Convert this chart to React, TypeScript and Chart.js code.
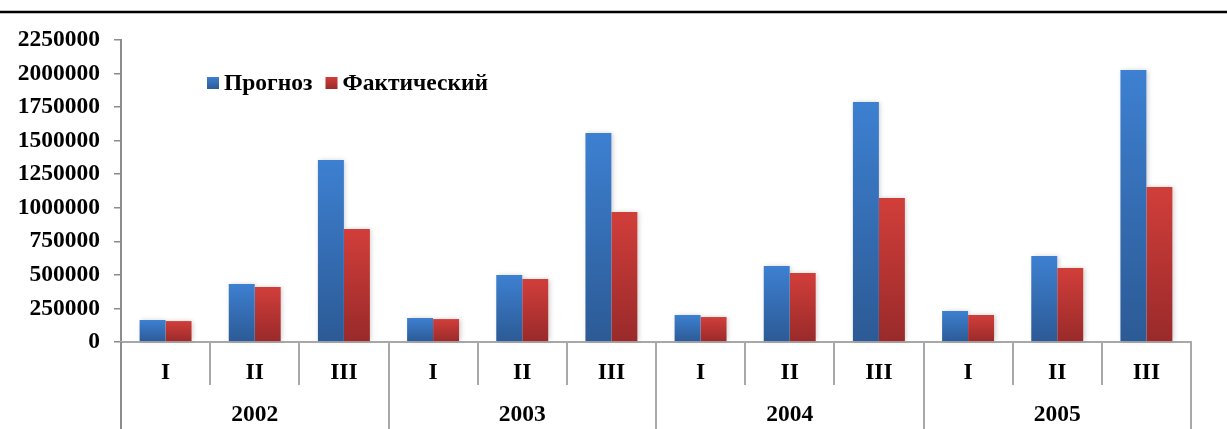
import React, { useEffect, useRef } from 'react';
import { Chart, registerables } from 'chart.js';

Chart.register(...registerables);

const quarters = ['I', 'II', 'III', 'I', 'II', 'III', 'I', 'II', 'III', 'I', 'II', 'III'];
const years = ['2002', '2003', '2004', '2005'];
const forecastLabel = 'Прогноз';
const actualLabel = 'Фактический';
const forecast = [164000, 432000, 1356000, 179000, 499000, 1557000, 201000, 566000, 1788000, 231000, 641000, 2027000];
const actual = [156000, 410000, 842000, 171000, 469000, 969000, 186000, 514000, 1073000, 201000, 551000, 1155000];
const yMax = 2250000;
const yStep = 250000;

const FONT = "'Liberation Serif', 'Times New Roman', serif";
const FONT_SIZE = 23.5;
const BLUE_TOP = '#3d80d1';
const BLUE_BOTTOM = '#2c5a95';
const RED_TOP = '#d13e3a';
const RED_BOTTOM = '#992a2a';

function barGradient(top: string, bottom: string) {
  return (ctx: any) => {
    const chart = ctx.chart;
    if (!chart.chartArea || ctx.type !== 'data') return bottom;
    const ys = chart.scales.y;
    const v = ctx.parsed ? ctx.parsed.y : ctx.raw;
    const yTop = ys.getPixelForValue(v);
    const yBase = ys.getPixelForValue(0);
    if (!isFinite(yTop) || !isFinite(yBase) || yTop === yBase) return bottom;
    const g = chart.ctx.createLinearGradient(0, yTop, 0, yBase);
    g.addColorStop(0, top);
    g.addColorStop(1, bottom);
    return g;
  };
}

// soft shadows drawn under all bars first, so no shadow falls on a neighbouring bar
const shadowPlugin = {
  id: 'barShadow',
  beforeDatasetsDraw(chart: any) {
    const c = chart.ctx;
    c.save();
    c.shadowColor = 'rgba(0,0,0,0.22)';
    c.shadowBlur = 5;
    c.shadowOffsetX = 1.5;
    c.shadowOffsetY = 0;
    c.fillStyle = '#ffffff';
    chart.data.datasets.forEach((_d: any, i: number) => {
      const meta = chart.getDatasetMeta(i);
      if (meta.hidden) return;
      meta.data.forEach((el: any) => {
        const p = el.getProps(['x', 'y', 'base', 'width'], true);
        c.fillRect(p.x - p.width / 2, p.y, p.width, p.base - p.y);
      });
    });
    c.restore();
  },
};

const decorPlugin = {
  id: 'decor',
  afterDraw(chart: any) {
    const c = chart.ctx;
    const area = chart.chartArea;
    const x = chart.scales.x;
    const x2 = chart.scales.x2;
    c.save();
    // top rule
    c.strokeStyle = '#000';
    c.lineWidth = 2.5;
    c.beginPath();
    c.moveTo(0, 12);
    c.lineTo(chart.width, 12);
    c.stroke();
    // category separators
    const n = quarters.length;
    for (let i = 0; i <= n; i++) {
      const px = Math.round(x.getPixelForValue(i - 0.5));
      const yEnd = i % 3 === 0 ? x2.bottom : x.bottom;
      c.strokeStyle = i === 0 ? '#8c8c8c' : '#a8a8a8';
      c.lineWidth = 2;
      c.beginPath();
      c.moveTo(px, area.bottom);
      c.lineTo(px, yEnd);
      c.stroke();
    }
    // legend inside the plot
    const items = chart.data.datasets.map((d: any, i: number) => ({
      label: d.label,
      top: i === 0 ? BLUE_TOP : RED_TOP,
      bottom: i === 0 ? BLUE_BOTTOM : RED_BOTTOM,
    }));
    c.font = `bold ${FONT_SIZE}px ${FONT}`;
    c.textBaseline = 'alphabetic';
    c.textAlign = 'left';
    let lx = area.left + 86;
    const boxTop = area.top + 37;
    const box = 12;
    items.forEach((it: any) => {
      const g = c.createLinearGradient(0, boxTop, 0, boxTop + box);
      g.addColorStop(0, it.top);
      g.addColorStop(1, it.bottom);
      c.fillStyle = g;
      c.fillRect(lx, boxTop, box, box);
      lx += box + 5;
      c.fillStyle = '#000';
      c.fillText(it.label, lx, boxTop + 13);
      lx += c.measureText(it.label).width + 13;
    });
    c.restore();
  },
};

export default function App() {
  const ref = useRef<HTMLCanvasElement | null>(null);
  useEffect(() => {
    document.body.style.margin = '0';
    const canvas = ref.current;
    if (!canvas) return;
    const tickFont = { family: FONT, size: FONT_SIZE, weight: 'bold' as const };
    const chart = new Chart(canvas, {
      type: 'bar',
      data: {
        labels: quarters,
        datasets: [
          {
            label: forecastLabel,
            data: forecast,
            backgroundColor: barGradient(BLUE_TOP, BLUE_BOTTOM),
            borderWidth: 0,
            categoryPercentage: 0.583,
            barPercentage: 1,
          },
          {
            label: actualLabel,
            data: actual,
            backgroundColor: barGradient(RED_TOP, RED_BOTTOM),
            borderWidth: 0,
            categoryPercentage: 0.583,
            barPercentage: 1,
          },
        ],
      },
      options: {
        animation: false,
        responsive: false,
        devicePixelRatio: 1,
        layout: { padding: { top: 40, right: 36, left: 0, bottom: 0 } },
        plugins: {
          legend: { display: false },
          tooltip: { enabled: false },
        },
        scales: {
          y: {
            min: 0,
            max: yMax,
            ticks: {
              stepSize: yStep,
              color: '#000',
              font: tickFont,
              padding: 14,
              callback: (v: any) => String(v),
            },
            grid: {
              display: true,
              drawOnChartArea: false,
              drawTicks: true,
              tickLength: 7,
              color: '#8c8c8c',
              lineWidth: 1.5,
            },
            border: { display: true, color: '#8c8c8c', width: 2 },
            afterFit: (s: any) => {
              s.width = 121;
            },
          },
          x: {
            type: 'category',
            weight: 1,
            offset: true,
            grid: { display: false },
            border: { display: true, color: '#a8a8a8', width: 2 },
            ticks: { color: '#000', font: tickFont, padding: 9, maxRotation: 0, autoSkip: false },
            afterFit: (s: any) => {
              s.height = 43;
            },
          },
          x2: {
            type: 'category',
            position: 'bottom',
            weight: 2,
            labels: years,
            offset: true,
            grid: { display: false },
            border: { display: false },
            ticks: { color: '#000', font: tickFont, padding: 8, maxRotation: 0, autoSkip: false },
            afterFit: (s: any) => {
              s.height = 44;
            },
          },
        },
      },
      plugins: [shadowPlugin, decorPlugin],
    });
    return () => chart.destroy();
  }, []);
  return (
    <div style={{ width: 1227, height: 429 }}>
      <canvas ref={ref} width={1227} height={429} style={{ display: 'block', width: 1227, height: 429 }} />
    </div>
  );
}
